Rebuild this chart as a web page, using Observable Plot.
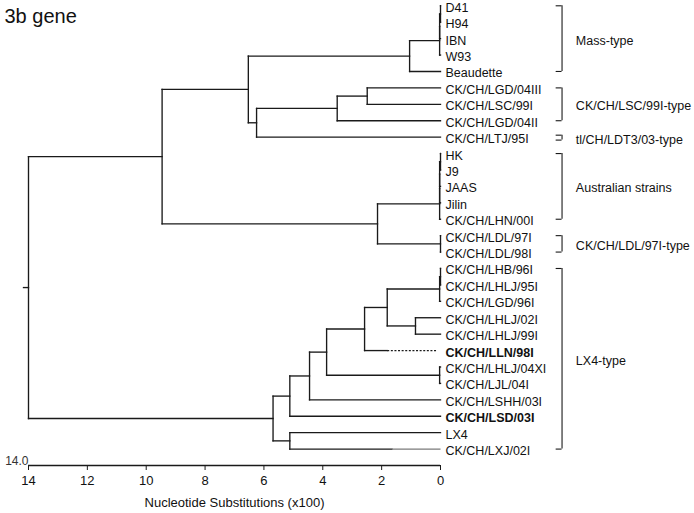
<!DOCTYPE html>
<html><head><meta charset="utf-8">
<script src="https://cdn.jsdelivr.net/npm/d3@7"></script>
<script src="https://cdn.jsdelivr.net/npm/@observablehq/plot@0.6"></script>
<style>body{margin:0;background:#fff;} svg{display:block}</style>
</head><body><div id="chart"></div>
<script>
// ---------- data ----------
const title = "3b gene";
const axisLabel = "Nucleotide Substitutions (x100)";
const rootLabel = "14.0";
const xTicks = [14, 12, 10, 8, 6, 4, 2, 0];

const leaves = ["D41","H94","IBN","W93","Beaudette",
  "CK/CH/LGD/04III","CK/CH/LSC/99I","CK/CH/LGD/04II","CK/CH/LTJ/95I",
  "HK","J9","JAAS","Jilin","CK/CH/LHN/00I","CK/CH/LDL/97I","CK/CH/LDL/98I",
  "CK/CH/LHB/96I","CK/CH/LHLJ/95I","CK/CH/LGD/96I","CK/CH/LHLJ/02I","CK/CH/LHLJ/99I",
  "CK/CH/LLN/98I","CK/CH/LHLJ/04XI","CK/CH/LJL/04I","CK/CH/LSHH/03I","CK/CH/LSD/03I",
  "LX4","CK/CH/LXJ/02I"];
const boldLeaves = ["CK/CH/LLN/98I","CK/CH/LSD/03I"];

// internal nodes: id, depth (nucleotide substitutions x100), children
const nodeIds    = ["root","A","B","C","m3","m2","m1","LT","LS","LS2","AL","au4","au3","au2","au1","LDL",
                    "L0","L1","L2","L3","L4","L5","L6","L7","L8b","L8a","L9"];
const nodeDepths = [14.0, 9.46, 6.53, 1.05, 0.03, 0.03, 0.0, 6.25, 3.51, 2.49, 2.14, 0.03, 0.03, 0.03, 0.0, 0.0,
                    5.69, 5.12, 5.12, 4.45, 3.87, 2.58, 0.03, 1.81, 0.03, 0.0, 0.85];
const nodeChildren = [
  ["A","L0"], ["B","AL"], ["C","LT"], ["m3","Beaudette"], ["m2","W93"], ["m1","IBN"], ["D41","H94"],
  ["LS","CK/CH/LTJ/95I"], ["LS2","CK/CH/LGD/04II"], ["CK/CH/LGD/04III","CK/CH/LSC/99I"],
  ["au4","LDL"], ["au3","CK/CH/LHN/00I"], ["au2","Jilin"], ["au1","JAAS"], ["HK","J9"],
  ["CK/CH/LDL/97I","CK/CH/LDL/98I"],
  ["L1","L2"], ["L3","CK/CH/LSD/03I"], ["LX4","CK/CH/LXJ/02I"], ["L4","CK/CH/LSHH/03I"],
  ["L5","L6"], ["L7","CK/CH/LLN/98I"], ["CK/CH/LHLJ/04XI","CK/CH/LJL/04I"], ["L8b","L9"],
  ["L8a","CK/CH/LGD/96I"], ["CK/CH/LHB/96I","CK/CH/LHLJ/95I"], ["CK/CH/LHLJ/02I","CK/CH/LHLJ/99I"]
];
const rootBranch = 0.17;
const dottedLeaf = "CK/CH/LLN/98I", dottedFrom = 1.81, dottedTo = 0.1;
const greyLeaf = "CK/CH/LXJ/02I", greyFrom = 1.65;

const groupNames = ["Mass-type","CK/CH/LSC/99I-type","tl/CH/LDT3/03-type","Australian strains","CK/CH/LDL/97I-type","LX4-type"];
const groupFirst = ["D41","CK/CH/LGD/04III","CK/CH/LTJ/95I","HK","CK/CH/LDL/97I","CK/CH/LHB/96I"];
const groupLast  = ["Beaudette","CK/CH/LGD/04II","CK/CH/LTJ/95I","CK/CH/LHN/00I","CK/CH/LDL/98I","CK/CH/LXJ/02I"];

// ---------- layout constants (in x-scale units) ----------
const bracketX = -4.13, bracketTick = 0.2, groupLabelX = -4.6;

// ---------- build tree segments ----------
const leafIndex = new Map(leaves.map((n, i) => [n, i]));
const nodes = new Map(nodeIds.map((id, i) => [id, {depth: nodeDepths[i], children: nodeChildren[i]}]));
const yMemo = new Map();
function yOf(n) {
  if (leafIndex.has(n)) return leafIndex.get(n);
  if (yMemo.has(n)) return yMemo.get(n);
  const c = nodes.get(n).children;
  const v = (yOf(c[0]) + yOf(c[c.length - 1])) / 2;
  yMemo.set(n, v);
  return v;
}
const depthOf = n => leafIndex.has(n) ? 0 : nodes.get(n).depth;
const solid = [], dotted = [], grey = [];
for (const [id, nd] of nodes) {
  const ys = nd.children.map(yOf);
  solid.push({x1: nd.depth, x2: nd.depth, y1: d3.min(ys), y2: d3.max(ys)});
  for (const c of nd.children) {
    const y = yOf(c), xc = depthOf(c);
    if (c === dottedLeaf) {
      solid.push({x1: nd.depth, x2: dottedFrom, y1: y, y2: y});
      dotted.push({x1: dottedFrom, x2: dottedTo, y1: y, y2: y});
    } else if (c === greyLeaf) {
      solid.push({x1: nd.depth, x2: greyFrom, y1: y, y2: y});
      grey.push({x1: greyFrom, x2: xc, y1: y, y2: y});
    } else solid.push({x1: nd.depth, x2: xc, y1: y, y2: y});
  }
}
const rootDepth = nodes.get("root").depth, rootY = yOf("root");
solid.push({x1: rootDepth + rootBranch, x2: rootDepth, y1: rootY, y2: rootY});

const labels = leaves.map((n, i) => ({name: n, y: i, bold: boldLeaves.includes(n)}));
const groups = groupNames.map((g, i) => {
  let a = leafIndex.get(groupFirst[i]), b = leafIndex.get(groupLast[i]);
  if (a === b) { a -= 0.12; b += 0.18; }
  return {name: g, y1: a, y2: b, ym: (a + b) / 2};
});
const bracketTicks = groups.flatMap(g => [{y: g.y1}, {y: g.y2}]);

const nRows = leaves.length; // axis sits one row below last leaf
const font = "'Liberation Sans', Arial, Helvetica, sans-serif";
const labelOpts = {x: 0, y: "y", text: "name", textAnchor: "start", dx: 5, dy: 2, fontSize: 12.5, fill: "#111"};

const chart = Plot.plot({
  width: 694, height: 513,
  marginLeft: 28, marginRight: 254, marginTop: 5, marginBottom: 48,
  style: {fontFamily: font, background: "#fff", color: "#111"},
  x: {domain: [14, 0], range: [28, 440], label: null},
  y: {domain: [0, nRows], range: [5.3, 465], axis: null},
  marks: [
    Plot.link(solid, {x1: "x1", y1: "y1", x2: "x2", y2: "y2", stroke: "#1a1a1a", strokeWidth: 1.35, strokeLinecap: "square"}),
    Plot.link(grey, {x1: "x1", y1: "y1", x2: "x2", y2: "y2", stroke: "#7a7a7a", strokeWidth: 1.35}),
    Plot.link(dotted, {x1: "x1", y1: "y1", x2: "x2", y2: "y2", stroke: "#1a1a1a", strokeWidth: 1.2, strokeDasharray: "2,1.6"}),
    Plot.text(labels.filter(d => !d.bold), {...labelOpts, fontWeight: "normal"}),
    Plot.text(labels.filter(d => d.bold), {...labelOpts, fontWeight: "bold"}),
    // group brackets
    Plot.ruleX(groups, {x: bracketX, y1: "y1", y2: "y2", stroke: "#1a1a1a", strokeWidth: 1.1}),
    Plot.ruleY(bracketTicks, {y: "y", x1: bracketX, x2: bracketX + bracketTick, stroke: "#1a1a1a", strokeWidth: 1.1}),
    Plot.text(groups, {x: groupLabelX, y: "ym", text: "name", textAnchor: "start", dy: 2, fontSize: 12.5, fill: "#111"}),
    // axis
    Plot.ruleY([nRows], {x1: xTicks[0], x2: xTicks[xTicks.length - 1], stroke: "#1a1a1a", strokeWidth: 1.3}),
    Plot.axisX({ticks: xTicks, tickSize: 5, tickPadding: 5, fontSize: 13, label: null, stroke: "#1a1a1a"}),
    Plot.text([rootLabel], {x: xTicks[0], y: nRows, textAnchor: "end", dx: 0, dy: -4, fontSize: 12, fill: "#333"}),
    Plot.text([axisLabel], {x: d3.mean([xTicks[0], xTicks[xTicks.length - 1]]), y: nRows, dy: 37, fontSize: 13, fill: "#111"}),
    Plot.text([title], {frameAnchor: "top-left", dx: -24, dy: 3, fontSize: 20, lineAnchor: "top", fill: "#111"})
  ]
});
document.getElementById("chart").appendChild(chart);
</script>
</body></html>
